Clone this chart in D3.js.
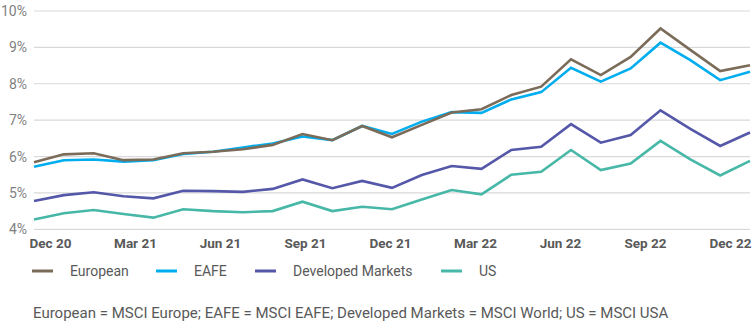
<!DOCTYPE html>
<html>
<head>
<meta charset="utf-8">
<script src="https://cdn.jsdelivr.net/npm/d3@7"></script>
<style>
  body { margin: 0; background: #fff; }
  svg { display: block; font-family: "Roboto", sans-serif; }
</style>
</head>
<body>
<div id="chart"></div>
<script>
// Monthly yields, Dec 2020 - Dec 2022
const months = ['Dec 20','Jan 21','Feb 21','Mar 21','Apr 21','May 21','Jun 21','Jul 21','Aug 21','Sep 21','Oct 21','Nov 21',
  'Dec 21','Jan 22','Feb 22','Mar 22','Apr 22','May 22','Jun 22','Jul 22','Aug 22','Sep 22','Oct 22','Nov 22','Dec 22'];
const european = [5.84,6.06,6.09,5.90,5.92,6.09,6.13,6.20,6.32,6.62,6.45,6.84,6.53,6.87,7.21,7.30,7.69,7.92,8.67,8.24,8.74,9.52,8.93,8.35,8.51];
const eafe = [5.72,5.90,5.92,5.86,5.90,6.07,6.13,6.25,6.36,6.55,6.45,6.84,6.62,6.96,7.22,7.20,7.57,7.77,8.44,8.06,8.42,9.13,8.65,8.10,8.33];
const developed = [4.78,4.94,5.02,4.91,4.85,5.06,5.05,5.03,5.11,5.37,5.13,5.33,5.14,5.49,5.74,5.66,6.18,6.27,6.89,6.38,6.59,7.27,6.76,6.29,6.66];
const us = [4.27,4.44,4.53,4.42,4.32,4.55,4.50,4.47,4.50,4.76,4.50,4.62,4.55,4.82,5.08,4.96,5.50,5.58,6.18,5.63,5.81,6.43,5.92,5.48,5.88];
const tickLabels = ['Dec 20','Mar 21','Jun 21','Sep 21','Dec 21','Mar 22','Jun 22','Sep 22','Dec 22'];
const yTicks = [4,5,6,7,8,9,10];
const seriesNames = ['European','EAFE','Developed Markets','US'];
const seriesColors = ['#7b6b59','#00adee','#5557a9','#47b8a7'];
const footnote = 'European = MSCI Europe; EAFE = MSCI EAFE; Developed Markets = MSCI World; US = MSCI USA';

const w = 753, h = 322;
const series = [european, eafe, developed, us];

const svg = d3.select('#chart').append('svg')
  .attr('width', w).attr('height', h);

// Scales
const x = d3.scalePoint().domain(months).range([34, 750]);
const y = d3.scaleLinear().domain([4, 10]).range([229.3, 11]);
// Category labels sit on their own evenly spaced band
const xLab = d3.scalePoint().domain(tickLabels).range([50, 730]);

// Gridlines
svg.append('g').selectAll('line')
  .data(yTicks).enter().append('line')
  .attr('x1', 34).attr('x2', 750)
  .attr('y1', d => y(d)).attr('y2', d => y(d))
  .attr('stroke', '#d9d9d9').attr('stroke-width', 1.2);

// Y axis labels
const yAxis = d3.axisLeft(y).tickValues(yTicks).tickFormat(d => d + '%').tickSize(0).tickPadding(0);
svg.append('g')
  .attr('transform', 'translate(27,0)')
  .call(yAxis)
  .call(g => g.select('.domain').remove())
  .call(g => g.selectAll('text')
    .attr('fill', '#7f7f7f')
    .style('font-size', '14px')
    .style('font-family', 'Roboto, sans-serif'));

// X axis labels
const xAxis = d3.axisBottom(xLab).tickSize(0).tickPadding(0);
svg.append('g')
  .attr('transform', 'translate(0,238)')
  .call(xAxis)
  .call(g => g.select('.domain').remove())
  .call(g => g.selectAll('text')
    .attr('fill', '#595959')
    .style('font-size', '13.5px')
    .style('font-weight', 'bold')
    .style('font-family', 'Roboto, sans-serif'));

// Lines, drawn bottom-up so European sits on top
const line = d3.line().x((d, i) => x(months[i])).y(d => y(d));
[3, 2, 1, 0].forEach(k => {
  svg.append('path')
    .datum(series[k])
    .attr('fill', 'none')
    .attr('stroke', seriesColors[k])
    .attr('stroke-width', 2.6)
    .attr('stroke-linejoin', 'miter')
    .attr('d', line);
});

// Legend
const legendX = [32, 156, 255, 441];
const legend = svg.append('g').attr('transform', 'translate(0,271)');
seriesNames.forEach((name, k) => {
  legend.append('line')
    .attr('x1', legendX[k]).attr('x2', legendX[k] + 21)
    .attr('y1', 0).attr('y2', 0)
    .attr('stroke', seriesColors[k]).attr('stroke-width', 3);
  legend.append('text')
    .attr('x', legendX[k] + 38).attr('y', 5)
    .attr('fill', '#595959')
    .style('font-size', '14px')
    .text(name);
});

// Footnote
svg.append('text')
  .attr('x', 33).attr('y', 318)
  .attr('fill', '#595959')
  .style('font-size', '15px')
  .text(footnote);
</script>
</body>
</html>
